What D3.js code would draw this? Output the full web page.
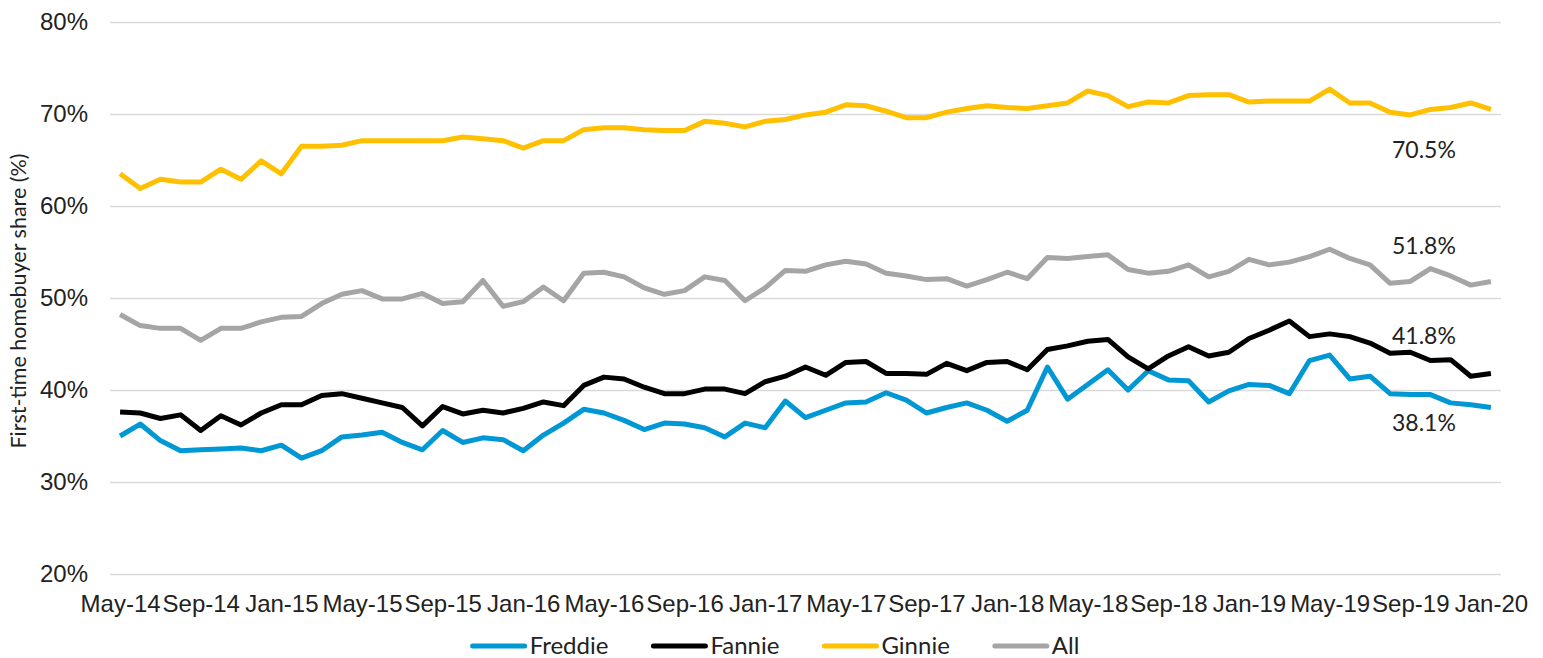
<!DOCTYPE html>
<html>
<head>
<meta charset="utf-8">
<script src="https://cdn.jsdelivr.net/npm/d3@7"></script>
<style>
    body { margin: 0; background: #fff; }
    svg { display: block; font-family: Lato, "Open Sans", sans-serif; }
    .grid line { stroke: #d9d9d9; stroke-width: 1.5; }
    .axis text { fill: #222; font-size: 24px; }
    .series { fill: none; stroke-width: 5; stroke-linejoin: round; }
</style>
</head>
<body>
<svg width="1543" height="658"></svg>
<script>
"use strict";

var months = [
    "May-14", "Jun-14", "Jul-14", "Aug-14", "Sep-14", "Oct-14", "Nov-14",
    "Dec-14", "Jan-15", "Feb-15", "Mar-15", "Apr-15", "May-15", "Jun-15",
    "Jul-15", "Aug-15", "Sep-15", "Oct-15", "Nov-15", "Dec-15", "Jan-16",
    "Feb-16", "Mar-16", "Apr-16", "May-16", "Jun-16", "Jul-16", "Aug-16",
    "Sep-16", "Oct-16", "Nov-16", "Dec-16", "Jan-17", "Feb-17", "Mar-17",
    "Apr-17", "May-17", "Jun-17", "Jul-17", "Aug-17", "Sep-17", "Oct-17",
    "Nov-17", "Dec-17", "Jan-18", "Feb-18", "Mar-18", "Apr-18", "May-18",
    "Jun-18", "Jul-18", "Aug-18", "Sep-18", "Oct-18", "Nov-18", "Dec-18",
    "Jan-19", "Feb-19", "Mar-19", "Apr-19", "May-19", "Jun-19", "Jul-19",
    "Aug-19", "Sep-19", "Oct-19", "Nov-19", "Dec-19", "Jan-20"
];

var freddie = [
    35.0, 36.3, 34.5, 33.4, 33.5, 33.6, 33.7, 33.4, 34.0, 32.6, 33.4, 34.9,
    35.1, 35.4, 34.3, 33.5, 35.6, 34.3, 34.8, 34.6, 33.4, 35.1, 36.4, 37.9,
    37.5, 36.7, 35.7, 36.4, 36.3, 35.9, 34.9, 36.4, 35.9, 38.8, 37.0, 37.8,
    38.6, 38.7, 39.7, 38.9, 37.5, 38.1, 38.6, 37.8, 36.6, 37.8, 42.5, 39.0,
    40.6, 42.2, 40.0, 42.1, 41.1, 41.0, 38.7, 39.9, 40.6, 40.5, 39.6, 43.2,
    43.8, 41.2, 41.5, 39.6, 39.5, 39.5, 38.6, 38.4, 38.1
];

var fannie = [
    37.6, 37.5, 36.9, 37.3, 35.6, 37.2, 36.2, 37.5, 38.4, 38.4, 39.4, 39.6,
    39.1, 38.6, 38.1, 36.1, 38.2, 37.4, 37.8, 37.5, 38.0, 38.7, 38.3, 40.5,
    41.4, 41.2, 40.3, 39.6, 39.6, 40.1, 40.1, 39.6, 40.9, 41.5, 42.5, 41.6,
    43.0, 43.1, 41.8, 41.8, 41.7, 42.9, 42.1, 43.0, 43.1, 42.2, 44.4, 44.8,
    45.3, 45.5, 43.6, 42.3, 43.7, 44.7, 43.7, 44.1, 45.6, 46.5, 47.5, 45.8,
    46.1, 45.8, 45.1, 44.0, 44.1, 43.2, 43.3, 41.5, 41.8
];

var ginnie = [
    63.5, 61.9, 62.9, 62.6, 62.6, 64.0, 62.9, 64.9, 63.5, 66.5, 66.5, 66.6,
    67.1, 67.1, 67.1, 67.1, 67.1, 67.5, 67.3, 67.1, 66.3, 67.1, 67.1, 68.3,
    68.5, 68.5, 68.3, 68.2, 68.2, 69.2, 69.0, 68.6, 69.2, 69.4, 69.9, 70.2,
    71.0, 70.9, 70.3, 69.6, 69.6, 70.2, 70.6, 70.9, 70.7, 70.6, 70.9, 71.2,
    72.5, 72.0, 70.8, 71.3, 71.2, 72.0, 72.1, 72.1, 71.3, 71.4, 71.4, 71.4,
    72.7, 71.2, 71.2, 70.2, 69.9, 70.5, 70.7, 71.2, 70.5
];

var all = [
    48.2, 47.0, 46.7, 46.7, 45.4, 46.7, 46.7, 47.4, 47.9, 48.0, 49.4, 50.4,
    50.8, 49.9, 49.9, 50.5, 49.4, 49.6, 51.9, 49.1, 49.6, 51.2, 49.7, 52.7,
    52.8, 52.3, 51.1, 50.4, 50.8, 52.3, 51.9, 49.7, 51.1, 53.0, 52.9, 53.6,
    54.0, 53.7, 52.7, 52.4, 52.0, 52.1, 51.3, 52.0, 52.8, 52.1, 54.4, 54.3,
    54.5, 54.7, 53.1, 52.7, 52.9, 53.6, 52.3, 52.9, 54.2, 53.6, 53.9, 54.5,
    55.3, 54.3, 53.6, 51.6, 51.8, 53.2, 52.4, 51.4, 51.8
];

var seriesNames = ["Freddie", "Fannie", "Ginnie", "All"];
var seriesValues = [freddie, fannie, ginnie, all];
var seriesColors = ["#0098d4", "#000000", "#ffc000", "#a5a5a5"];
var yTicks = [20, 30, 40, 50, 60, 70, 80];
var tickEvery = 4; // months between x labels

var svg = d3.select("svg");
var width = 1543;
var height = 658;
var margin = {top: 22, right: 42, bottom: 84, left: 110};
var plotW = width - margin.left - margin.right;
var plotH = height - margin.top - margin.bottom;

var xScale = d3.scalePoint()
    .domain(months)
    .range([0, plotW])
    .padding(0.5);
var yScale = d3.scaleLinear()
    .domain([20, 80])
    .range([plotH, 0]);

var main = svg.append("g")
    .attr("transform", "translate(" + margin.left + "," + margin.top + ")");

// gridlines + y labels
var yAxis = d3.axisLeft(yScale)
    .tickValues(yTicks)
    .tickSize(-plotW)
    .tickPadding(22)
    .tickFormat(function (d) {
        return d + "%";
    });
main.append("g")
    .attr("class", "axis grid")
    .call(yAxis)
    .call(function (g) {
        g.select(".domain").remove();
    });

var xAxis = d3.axisBottom(xScale)
    .tickValues(months.filter(function (ignore, i) {
        return i % tickEvery === 0;
    }))
    .tickSize(0)
    .tickPadding(21);
main.append("g")
    .attr("class", "axis")
    .attr("transform", "translate(0," + plotH + ")")
    .call(xAxis)
    .call(function (g) {
        g.select(".domain").remove();
    });

var line = d3.line()
    .x(function (ignore, i) {
        return xScale(months[i]);
    })
    .y(function (d) {
        return yScale(d);
    });

main.selectAll("path.series")
    .data(seriesValues)
    .join("path")
    .attr("class", "series")
    .attr("stroke", function (ignore, i) {
        return seriesColors[i];
    })
    .attr("d", line);

// end-of-line value labels, placed relative to the last point
var labelOffsets = [24, -29, 49, -27];
var last = months.length - 1;
main.selectAll("text.end-label")
    .data(seriesValues)
    .join("text")
    .attr("class", "end-label")
    .attr("x", xScale(months[last]) - 67)
    .attr("y", function (d, i) {
        return yScale(d[last]) + labelOffsets[i];
    })
    .attr("text-anchor", "middle")
    .attr("fill", "#222")
    .style("font-size", "23px")
    .text(function (d) {
        return d[last].toFixed(1) + "%";
    });

svg.append("text")
    .attr("transform", "translate(26," + (margin.top + plotH / 2 + 3) +
            ") rotate(-90)")
    .attr("text-anchor", "middle")
    .attr("fill", "#222")
    .style("font-size", "21.5px")
    .text("First-time homebuyer share (%)");

// legend
var legend = svg.append("g");
var swatch = 52;
var gap = 45;
var cursor = 0;
seriesNames.forEach(function (name, i) {
    var item = legend.append("g")
        .attr("transform", "translate(" + cursor + ",0)");
    item.append("line")
        .attr("x1", 0)
        .attr("x2", swatch)
        .attr("stroke", seriesColors[i])
        .attr("stroke-width", 5)
        .attr("stroke-linecap", "round");
    var label = item.append("text")
        .attr("x", swatch + 5)
        .attr("dy", "0.35em")
        .attr("fill", "#222")
        .style("font-size", "24px")
        .text(name);
    cursor += swatch + 5 + label.node().getComputedTextLength() + gap;
});
cursor -= gap;
legend.attr("transform",
        "translate(" + (776 - cursor / 2) + ",646)");
</script>
</body>
</html>
